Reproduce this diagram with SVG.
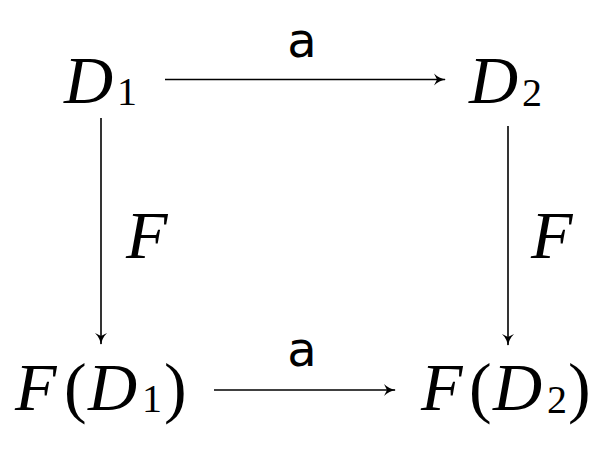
<svg xmlns="http://www.w3.org/2000/svg" width="608" height="455" viewBox="0 0 608 455">
<style>
.m{font-family:"Liberation Serif","Times New Roman",serif;font-style:italic;font-size:68px;fill:#000}
.r{font-style:normal}
.s{font-size:40px}
.p{font-size:68px}
.a{font-family:"DejaVu Sans",sans-serif;font-size:48px;fill:#000}
.c{stroke:#000;stroke-width:1.6;fill:none}
</style>
<defs>
<marker id="ah" markerUnits="userSpaceOnUse" markerWidth="14" markerHeight="14" refX="12" refY="7" orient="auto" viewBox="0 0 14 14">
<path d="M1,1 Q6,6 13,7 Q6,8 1,13 L4,7 Z" fill="#000"/>
</marker>
</defs>
<rect width="608" height="455" fill="#fff"/>
<g id="connectors">
<line class="c" x1="165" y1="79.5" x2="445" y2="79.5" marker-end="url(#ah)"/>
<line class="c" x1="101" y1="118" x2="101" y2="344" marker-end="url(#ah)"/>
<line class="c" x1="508" y1="126" x2="508" y2="345" marker-end="url(#ah)"/>
<line class="c" x1="214" y1="390" x2="395" y2="390" marker-end="url(#ah)"/>
<text class="a" x="302" y="57" text-anchor="middle">a</text>
<text class="a" x="302" y="366" text-anchor="middle">a</text>
<text class="m" x="126" y="258">F</text>
<text class="m" x="531" y="258">F</text>
</g>
<g id="D1">
<text class="m" x="64" y="103">D<tspan class="r s" x="117" y="105">1</tspan></text>
</g>
<g id="D2">
<text class="m" x="469" y="103">D<tspan class="r s" x="522" y="106">2</tspan></text>
</g>
<g id="FD1">
<text class="m" x="15" y="410">F<tspan class="r p" x="64">(</tspan><tspan x="88">D</tspan><tspan class="r s" x="142" y="412">1</tspan><tspan class="r p" x="164" y="410">)</tspan></text>
</g>
<g id="FD2">
<text class="m" x="421" y="410">F<tspan class="r p" x="469">(</tspan><tspan x="493">D</tspan><tspan class="r s" x="547" y="413">2</tspan><tspan class="r p" x="568" y="410">)</tspan></text>
</g>
</svg>
